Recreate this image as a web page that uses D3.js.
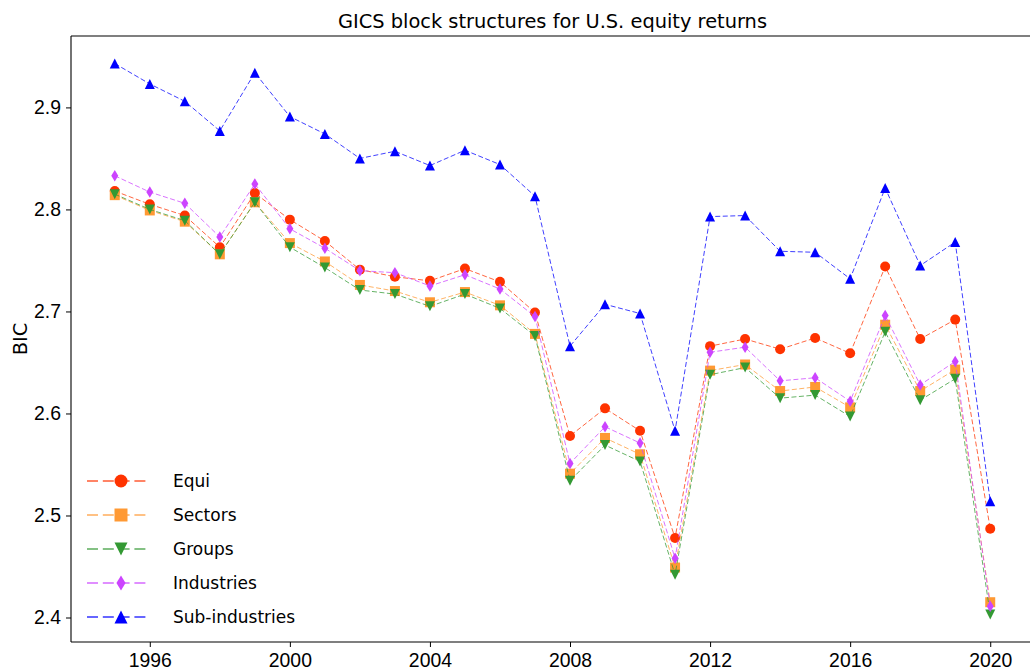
<!DOCTYPE html>
<html>
<head>
<meta charset="utf-8">
<script src="https://cdn.jsdelivr.net/npm/d3@7"></script>
<style>
  html, body { margin: 0; padding: 0; background: #fff; }
  svg { display: block; font-family: "DejaVu Sans", sans-serif; }
</style>
</head>
<body>
<svg id="chart" width="1030" height="672"></svg>
<script>
// data
var years = [1995, 1996, 1997, 1998, 1999, 2000, 2001, 2002, 2003, 2004, 2005, 2006, 2007,
             2008, 2009, 2010, 2011, 2012, 2013, 2014, 2015, 2016, 2017, 2018, 2019, 2020];
var equi = [2.818, 2.805, 2.794, 2.763, 2.816, 2.790, 2.769, 2.741, 2.734, 2.730, 2.742, 2.729, 2.699,
            2.578, 2.605, 2.583, 2.478, 2.666, 2.673, 2.663, 2.674, 2.659, 2.744, 2.673, 2.692, 2.487];
var sectors = [2.814, 2.799, 2.788, 2.756, 2.807, 2.767, 2.749, 2.726, 2.720, 2.709, 2.719, 2.706, 2.678,
               2.541, 2.576, 2.560, 2.449, 2.642, 2.648, 2.622, 2.626, 2.606, 2.687, 2.622, 2.643, 2.415];
var groups = [2.815, 2.800, 2.789, 2.756, 2.807, 2.763, 2.743, 2.721, 2.717, 2.705, 2.717, 2.703, 2.676,
              2.534, 2.569, 2.553, 2.442, 2.638, 2.645, 2.615, 2.618, 2.597, 2.680, 2.613, 2.634, 2.403];
var industries = [2.833, 2.817, 2.806, 2.773, 2.825, 2.781, 2.762, 2.740, 2.738, 2.725, 2.736, 2.722, 2.695,
                  2.551, 2.587, 2.571, 2.458, 2.660, 2.665, 2.632, 2.635, 2.612, 2.696, 2.628, 2.651, 2.411];
var subIndustries = [2.943, 2.923, 2.906, 2.877, 2.934, 2.891, 2.874, 2.850, 2.857, 2.843, 2.858, 2.844, 2.813,
                     2.666, 2.707, 2.698, 2.583, 2.793, 2.794, 2.759, 2.758, 2.732, 2.821, 2.745, 2.768, 2.514];
var seriesNames = ['Equi', 'Sectors', 'Groups', 'Industries', 'Sub-industries'];
var xTicks = [1996, 2000, 2004, 2008, 2012, 2016, 2020];
var yTicks = [2.4, 2.5, 2.6, 2.7, 2.8, 2.9];

var series = [
  { name: seriesNames[0], values: equi,          color: '#ff3300', shape: 'circle' },
  { name: seriesNames[1], values: sectors,       color: '#ff9933', shape: 'square' },
  { name: seriesNames[2], values: groups,        color: '#339933', shape: 'down' },
  { name: seriesNames[3], values: industries,    color: '#cc44ff', shape: 'diamond' },
  { name: seriesNames[4], values: subIndustries, color: '#0000ff', shape: 'up' }
];

var svg = d3.select('#chart');
var margin = {top: 36, left: 71, bottom: 642, right: 1034};

// matplotlib style 5% padding
function padded(ext) {
  var p = (ext[1] - ext[0]) * 0.05;
  return [ext[0] - p, ext[1] + p];
}
var allVals = [].concat(equi, sectors, groups, industries, subIndustries);

var x = d3.scaleLinear().domain(padded(d3.extent(years))).range([margin.left, margin.right]);
var y = d3.scaleLinear().domain(padded(d3.extent(allVals))).range([margin.bottom, margin.top]);

// marker path, s ~ half size
function markerPath(shape, s) {
  if (shape === 'circle') return d3.symbol().type(d3.symbolCircle).size(Math.PI * s * s)();
  if (shape === 'square') return 'M' + (-s) + ',' + (-s) + 'H' + s + 'V' + s + 'H' + (-s) + 'Z';
  if (shape === 'up') return 'M0,' + (-s) + 'L' + s + ',' + s + 'L' + (-s) + ',' + s + 'Z';
  if (shape === 'down') return 'M0,' + s + 'L' + s + ',' + (-s) + 'L' + (-s) + ',' + (-s) + 'Z';
  if (shape === 'diamond') return 'M0,' + (-s * 1.15) + 'L' + (s * 0.7) + ',0L0,' + (s * 1.15) + 'L' + (-s * 0.7) + ',0Z';
}

var plot = svg.append('g');
var line = d3.line().x(function(d) { return x(d[0]); }).y(function(d) { return y(d[1]); });

series.forEach(function(s) {
  var pts = years.map(function(yr, i) { return [yr, s.values[i]]; });
  plot.append('path')
    .attr('d', line(pts))
    .attr('fill', 'none')
    .attr('stroke', s.color)
    .attr('stroke-opacity', 0.75)
    .attr('stroke-width', 1)
    .attr('stroke-dasharray', '5,2.5');
  plot.append('g').selectAll('path').data(pts).enter().append('path')
    .attr('transform', function(d) { return 'translate(' + x(d[0]) + ',' + y(d[1]) + ')'; })
    .attr('d', markerPath(s.shape, 5))
    .attr('fill', s.color);
});

// axes
var xAxis = d3.axisBottom(x).tickValues(xTicks).tickFormat(d3.format('d')).tickSizeOuter(0).tickSize(5).tickPadding(6);
var yAxis = d3.axisLeft(y).tickValues(yTicks).tickFormat(d3.format('.1f')).tickSizeOuter(0).tickSize(5).tickPadding(5);

var gx = svg.append('g').attr('transform', 'translate(0,' + margin.bottom + ')').call(xAxis);
var gy = svg.append('g').attr('transform', 'translate(' + margin.left + ',0)').call(yAxis);
[gx, gy].forEach(function(g) {
  g.select('.domain').remove();
  g.selectAll('line').attr('stroke', '#000').attr('stroke-width', 1);
  g.selectAll('text').attr('fill', '#000').style('font-size', '19.4px');
});

// spines
svg.append('line').attr('x1', margin.left).attr('x2', margin.left).attr('y1', margin.top).attr('y2', margin.bottom)
  .attr('stroke', '#000').attr('stroke-width', 1.1);
svg.append('line').attr('x1', margin.left).attr('x2', margin.right).attr('y1', margin.bottom).attr('y2', margin.bottom)
  .attr('stroke', '#000').attr('stroke-width', 1.1);
svg.append('line').attr('x1', margin.left).attr('x2', margin.right).attr('y1', margin.top).attr('y2', margin.top)
  .attr('stroke', '#000').attr('stroke-width', 1.1);

// title and y label
svg.append('text').attr('x', (margin.left + margin.right) / 2).attr('y', 28)
  .attr('text-anchor', 'middle').style('font-size', '19.4px').text('GICS block structures for U.S. equity returns');
svg.append('text').attr('transform', 'translate(27,' + ((margin.top + margin.bottom) / 2) + ') rotate(-90)')
  .attr('text-anchor', 'middle').style('font-size', '19.4px').text('BIC');

// legend
var legend = svg.append('g');
series.forEach(function(s, i) {
  var ly = 481 + i * 34;
  var row = legend.append('g').attr('transform', 'translate(0,' + ly + ')');
  row.append('line').attr('x1', 87).attr('x2', 150).attr('y1', 0).attr('y2', 0)
    .attr('stroke', s.color).attr('stroke-opacity', 0.8).attr('stroke-width', 1.3)
    .attr('stroke-dasharray', '11,4.8');
  row.append('path').attr('transform', 'translate(121,0)').attr('d', markerPath(s.shape, 6.5)).attr('fill', s.color);
  row.append('text').attr('x', 173).attr('y', 6).style('font-size', '17px').text(s.name);
});
</script>
</body>
</html>
